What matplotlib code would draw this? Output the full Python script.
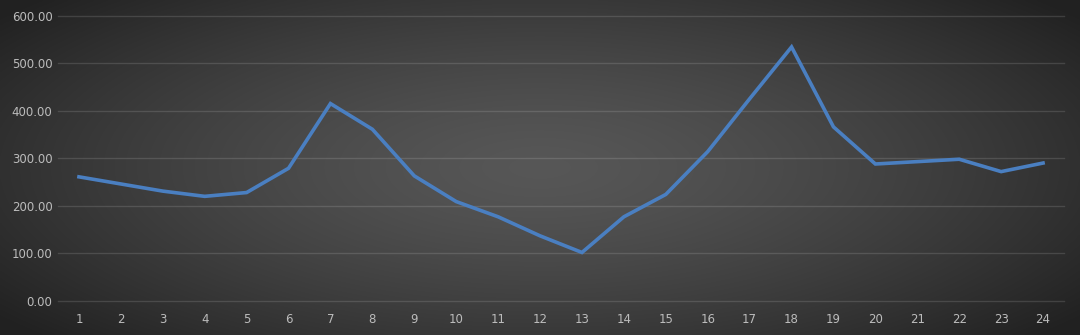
import numpy as np
import matplotlib.pyplot as plt

horas = list(range(1, 25))
valores = [261, 246, 231, 220, 228, 279, 415, 361, 263, 209, 177, 137,
           102, 177, 224, 314, 425, 534, 366, 288, 293, 298, 272, 290]
ticks_y = [0, 100, 200, 300, 400, 500, 600]

fig = plt.figure(figsize=(10.8, 3.35), dpi=100)

# fondo con degradado radial
bg = fig.add_axes([0, 0, 1, 1])
xx, yy = np.meshgrid(np.linspace(-1, 1, 540), np.linspace(-1, 1, 168))
r = np.sqrt((xx * 0.95) ** 2 + (yy * 0.8) ** 2)
r = np.clip(r / 1.2, 0, 1)
gris = 0.34 - (0.34 - 0.13) * r ** 1.4
img = np.dstack([gris, gris, gris])
bg.imshow(img, aspect="auto", extent=[0, 1, 0, 1], interpolation="bilinear")
bg.set_axis_off()

ax = fig.add_axes([0.0537, 0.1015, 0.9315, 0.852])
ax.set_facecolor("none")
ax.plot(horas, valores, color="#4a7fc1", linewidth=2.6, solid_joinstyle="miter")
ax.set_xlim(0.5, 24.5)
ax.set_ylim(0, 600)
ax.set_yticks(ticks_y)
ax.set_yticklabels([f"{v:.2f}" for v in ticks_y])
ax.set_xticks(horas)
ax.grid(axis="y", color="#ffffff", alpha=0.13, linewidth=1.0)
for gl in ax.get_ygridlines():
    gl.set_clip_on(False)
ax.set_axisbelow(True)
for s in ax.spines.values():
    s.set_visible(False)
ax.tick_params(length=0, colors="#bcbcbc", labelsize=8.5)
ax.tick_params(axis="y", pad=4)
ax.tick_params(axis="x", pad=9)

fig.savefig("out.png", dpi=100)
